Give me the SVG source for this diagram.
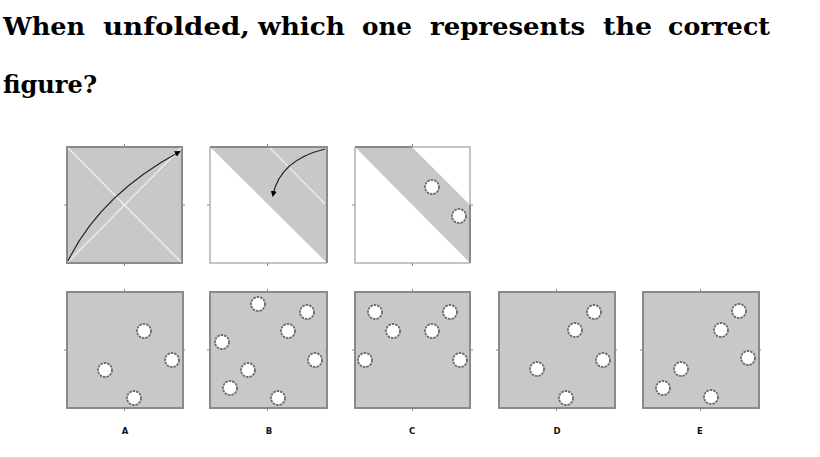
<svg xmlns="http://www.w3.org/2000/svg" width="820" height="457" viewBox="0 0 820 457">
<style>
.t{font-family:"DejaVu Serif","Liberation Serif",serif;font-weight:bold;font-size:24px;fill:#000}
.box{fill:#c8c8c8;stroke:#8a8a8a;stroke-width:2}
.fold{stroke:#ececec;stroke-width:1.5;fill:none}
.hole{fill:#fff;stroke:#6a6a6a;stroke-width:1.8;stroke-dasharray:2.5 1}
.tick{stroke:#8a8a8a;stroke-width:1}
.lbl{font-family:"DejaVu Sans","Liberation Sans",sans-serif;font-weight:bold;font-size:8.5px;fill:#111;text-anchor:middle}
.arr{fill:none;stroke:#222;stroke-width:1.2}
.edge{stroke:#8a8a8a;stroke-width:2;fill:none}
.edgeL{stroke:#c4c4c4;stroke-width:2;fill:none}
</style>
<defs>
<marker id="ah" markerWidth="6" markerHeight="6" refX="4" refY="3" orient="auto" markerUnits="userSpaceOnUse">
<path d="M0,0 L6,3 L0,6 z" fill="#000"/>
</marker>
<g id="ticks">
<line class="tick" x1="57.5" y1="-3" x2="57.5" y2="0"/>
<line class="tick" x1="57.5" y1="116" x2="57.5" y2="119"/>
<line class="tick" x1="-3" y1="58" x2="0" y2="58"/>
<line class="tick" x1="115" y1="58" x2="118" y2="58"/>
</g>
</defs>
<g id="title">
<text class="t" x="3" y="35" textLength="82" lengthAdjust="spacingAndGlyphs">When</text>
<text class="t" x="103" y="35" textLength="147" lengthAdjust="spacingAndGlyphs">unfolded,</text>
<text class="t" x="258" y="35" textLength="87" lengthAdjust="spacingAndGlyphs">which</text>
<text class="t" x="362" y="35" textLength="50" lengthAdjust="spacingAndGlyphs">one</text>
<text class="t" x="430" y="35" textLength="155" lengthAdjust="spacingAndGlyphs">represents</text>
<text class="t" x="603" y="35" textLength="49" lengthAdjust="spacingAndGlyphs">the</text>
<text class="t" x="668" y="35" textLength="102" lengthAdjust="spacingAndGlyphs">correct</text>
<text class="t" x="3" y="93" textLength="94" lengthAdjust="spacingAndGlyphs">figure?</text>
</g>
<g id="fold1">
<rect class="box" x="67" y="147" width="115" height="116"/>
<line class="fold" x1="68" y1="148" x2="181" y2="262"/>
<line class="fold" x1="181" y1="148" x2="68" y2="262"/>
<use href="#ticks" x="67" y="147"/>
</g>
<g id="fold2">
<rect x="210" y="147" width="117" height="116" fill="#fff"/>
<polygon points="210,147 327,147 327,263" fill="#c8c8c8"/>
<line class="fold" x1="270" y1="148" x2="326" y2="205"/>
<path class="edgeL" d="M210,147 V263 H327"/>
<path class="edge" d="M210,147 H327 V263"/>
<use href="#ticks" x="210" y="147"/>
</g>
<g id="fold3">
<rect x="355" y="147" width="115" height="116" fill="#fff"/>
<polygon points="355,147 412,147 470,205 470,263" fill="#c8c8c8"/>
<path class="edgeL" d="M412,147 H470 V205 M470,263 H355 V147"/>
<path class="edge" d="M355,147 H412 M470,205 V263"/>
<use href="#ticks" x="355" y="147"/>
<circle class="hole" cx="432" cy="187" r="7"/>
<circle class="hole" cx="459" cy="216" r="7"/>
</g>
<g id="optA">
<rect class="box" x="67" y="292" width="116" height="116"/>
<use href="#ticks" x="67" y="292"/>
<circle class="hole" cx="144" cy="331" r="7"/>
<circle class="hole" cx="172" cy="360" r="7"/>
<circle class="hole" cx="105" cy="370" r="7"/>
<circle class="hole" cx="134" cy="398" r="7"/>
<text class="lbl" x="125" y="434">A</text>
</g>
<g id="optB">
<rect class="box" x="210" y="292" width="117" height="116"/>
<use href="#ticks" x="210" y="292"/>
<circle class="hole" cx="258" cy="304" r="7"/>
<circle class="hole" cx="307" cy="312" r="7"/>
<circle class="hole" cx="288" cy="331" r="7"/>
<circle class="hole" cx="222" cy="342" r="7"/>
<circle class="hole" cx="315" cy="360" r="7"/>
<circle class="hole" cx="248" cy="370" r="7"/>
<circle class="hole" cx="230" cy="388" r="7"/>
<circle class="hole" cx="278" cy="398" r="7"/>
<text class="lbl" x="269" y="434">B</text>
</g>
<g id="optC">
<rect class="box" x="355" y="292" width="115" height="116"/>
<use href="#ticks" x="355" y="292"/>
<circle class="hole" cx="375" cy="312" r="7"/>
<circle class="hole" cx="450" cy="312" r="7"/>
<circle class="hole" cx="393" cy="331" r="7"/>
<circle class="hole" cx="432" cy="331" r="7"/>
<circle class="hole" cx="365" cy="360" r="7"/>
<circle class="hole" cx="460" cy="360" r="7"/>
<text class="lbl" x="412" y="434">C</text>
</g>
<g id="optD">
<rect class="box" x="499" y="292" width="116" height="116"/>
<use href="#ticks" x="499" y="292"/>
<circle class="hole" cx="594" cy="312" r="7"/>
<circle class="hole" cx="575" cy="330" r="7"/>
<circle class="hole" cx="603" cy="360" r="7"/>
<circle class="hole" cx="537" cy="369" r="7"/>
<circle class="hole" cx="566" cy="398" r="7"/>
<text class="lbl" x="557" y="434">D</text>
</g>
<g id="optE">
<rect class="box" x="643" y="292" width="116" height="116"/>
<use href="#ticks" x="643" y="292"/>
<circle class="hole" cx="739" cy="311" r="7"/>
<circle class="hole" cx="721" cy="330" r="7"/>
<circle class="hole" cx="748" cy="358" r="7"/>
<circle class="hole" cx="681" cy="369" r="7"/>
<circle class="hole" cx="663" cy="388" r="7"/>
<circle class="hole" cx="711" cy="397" r="7"/>
<text class="lbl" x="700" y="434">E</text>
</g>
<g id="connectors">
<path class="arr" d="M68,261 Q100,195 179,152" marker-end="url(#ah)"/>
<path class="arr" d="M325,149 Q280,160 273,195" marker-end="url(#ah)"/>
</g>
</svg>
